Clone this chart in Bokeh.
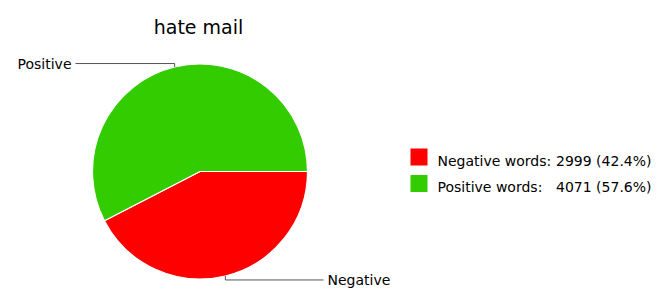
import math
from bokeh.plotting import figure
from bokeh.models import Range1d, ColumnDataSource
from bokeh.core.properties import value
from bokeh.embed import file_html
from bokeh.resources import INLINE

title = "hate mail"
categories = ["Negative", "Positive"]
legend_names = ["Negative words:", "Positive words:"]
counts = [2999, 4071]
colors = ["#ff0000", "#33cc00"]

W, H = 665, 289
FONT = "DejaVu Sans"

# data units == page pixels; page y = H - data y
def py(y):
    return H - y

p = figure(width=W, height=H, x_range=Range1d(0, W), y_range=Range1d(0, H),
           output_backend="svg", toolbar_location=None, x_axis_location=None, y_axis_location=None,
           min_border=0, outline_line_color=None)
p.xgrid.visible = False
p.ygrid.visible = False

cx, cy, r = 199.5, py(171), 107.5
total = sum(counts)
fracs = [c / total for c in counts]

# slices drawn clockwise starting at 3 o'clock
starts, ends, mids = [], [], []
a = 0.0
for f in fracs:
    sweep = f * 2 * math.pi
    starts.append(a - sweep)
    ends.append(a)
    mids.append(a - sweep / 2)
    a -= sweep

src = ColumnDataSource(dict(x=[cx] * 2, y=[cy] * 2, s=starts, e=ends, c=colors))
p.wedge(x="x", y="y", radius=r, start_angle="s", end_angle="e", fill_color="c",
        line_color="white", line_width=1.2, source=src)

# leader lines + labels
for cat, m in zip(categories, mids):
    ex = cx + r * math.cos(m)
    ey = cy + r * math.sin(m)
    if math.sin(m) > 0:
        ly = ey + 3.5
        lx_end = 75
        p.line([ex, ex, lx_end], [ey, ly, ly], line_color="#555555", line_width=1)
        p.text(x=[lx_end - 4], y=[ly], text=[cat], text_align="right", text_baseline="middle",
               text_font=value(FONT), text_font_size="14px", text_color="black")
    else:
        ly = ey - 4
        lx_end = 323
        p.line([ex, ex, lx_end], [ey, ly, ly], line_color="#555555", line_width=1)
        p.text(x=[lx_end + 4], y=[ly], text=[cat], text_align="left", text_baseline="middle",
               text_font=value(FONT), text_font_size="14px", text_color="black")

# title
p.text(x=[198], y=[py(26)], text=[title], text_align="center", text_baseline="alphabetic",
       text_font=value(FONT), text_font_size="19px", text_color="black")

# legend
row_y = [156.5, 183]
for name, cnt, f, col, ry in zip(legend_names, counts, fracs, colors, row_y):
    p.rect(x=[418.5], y=[py(ry)], width=17, height=17, fill_color=col, line_color=None)
    p.text(x=[437], y=[py(ry + 3.5)], text=[name], text_align="left", text_baseline="alphabetic",
           text_font=value(FONT), text_font_size="14px", text_color="black")
    p.text(x=[651], y=[py(ry + 3.5)], text=["%d (%.1f%%)" % (cnt, f * 100)], text_align="right",
           text_baseline="alphabetic", text_font=value(FONT), text_font_size="14px", text_color="black")

open("out.html", "w").write(file_html(p, INLINE))
